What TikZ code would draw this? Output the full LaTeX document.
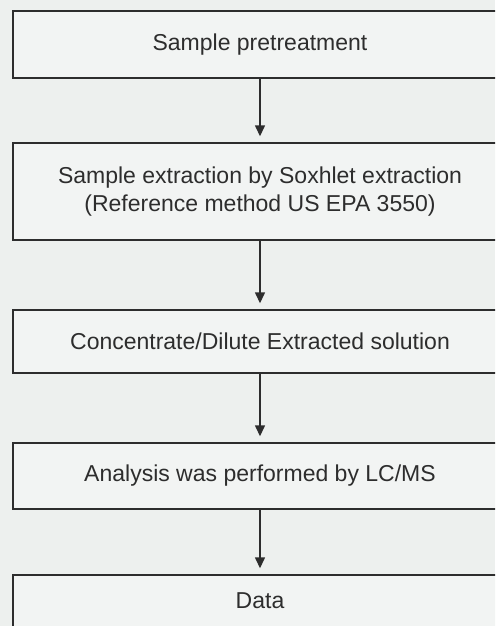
\documentclass[tikz,border=0pt]{standalone}
\usepackage{fontspec}
\setmainfont{Liberation Sans}
\usetikzlibrary{arrows.meta}
\definecolor{paper}{RGB}{237,240,238}
\definecolor{boxfill}{RGB}{242,244,243}
\definecolor{ink}{RGB}{45,45,45}
\tikzset{
  stepbox/.style={draw=ink, line width=1.4pt, fill=boxfill, text=ink,
    minimum width=494pt, inner sep=0pt, align=center,
    font=\fontsize{23pt}{28pt}\selectfont},
  flow/.style={draw=ink, line width=1.4pt,
    -{Triangle[width=10pt,length=11pt]}, shorten >=6pt}
}
\begin{document}
\begin{tikzpicture}[x=1pt,y=-1pt]
  \useasboundingbox (0,0) rectangle (495,626);
  \clip (0,0) rectangle (495,626);
  \fill[paper] (0,0) rectangle (495,626);

  \node[stepbox, minimum height=67pt] (pre) at (260,44.5) {Sample pretreatment};
  \node[stepbox, minimum height=97pt] (ext) at (260,191.5)
    {Sample extraction by Soxhlet extraction\\(Reference method US EPA 3550)};
  \node[stepbox, minimum height=63pt] (conc) at (260,341.5) {Concentrate/Dilute Extracted solution};
  \node[stepbox, minimum height=66pt] (lcms) at (260,476) {Analysis was performed by LC/MS};
  \node[stepbox, minimum height=52pt] (data) at (260,601) {Data};

  \draw[flow] (pre.south) -- (ext.north);
  \draw[flow] (ext.south) -- (conc.north);
  \draw[flow] (conc.south) -- (lcms.north);
  \draw[flow] (lcms.south) -- (data.north);
\end{tikzpicture}
\end{document}
